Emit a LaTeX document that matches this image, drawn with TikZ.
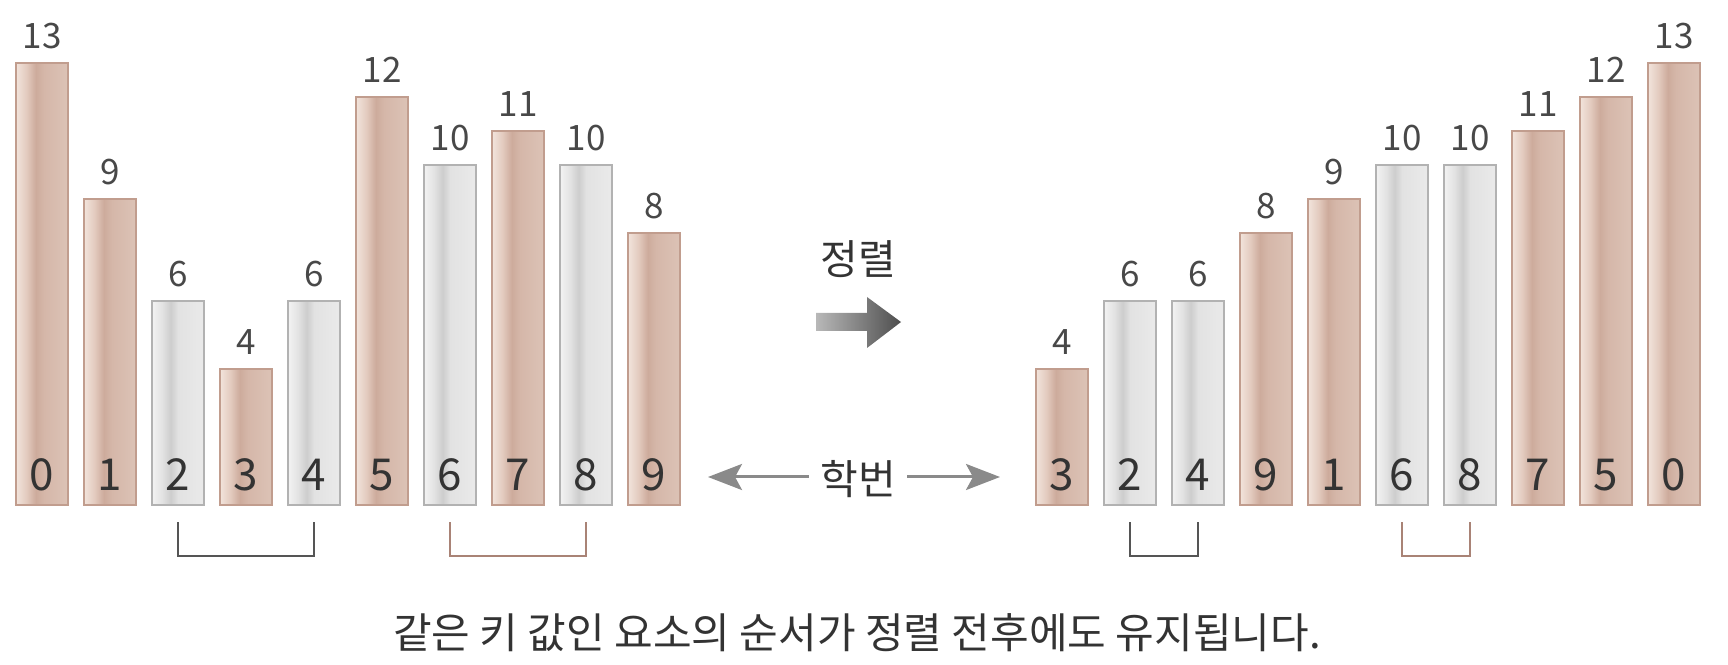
\documentclass[tikz,border=0pt]{standalone}
\usepackage{fontspec}
\setmainfont{Noto Sans CJK KR}
\usepackage{tikz}
\usetikzlibrary{arrows.meta,positioning}

\definecolor{brA}{HTML}{F2E4DC}
\definecolor{brB}{HTML}{E3CBBF}
\definecolor{brC}{HTML}{CDAB9C}
\definecolor{brD}{HTML}{D5B7A9}
\definecolor{brE}{HTML}{DCC3B6}
\definecolor{brline}{HTML}{C19D8E}
\definecolor{grA}{HTML}{F3F3F3}
\definecolor{grB}{HTML}{E2E2E2}
\definecolor{grC}{HTML}{CDCDCD}
\definecolor{grD}{HTML}{E2E2E2}
\definecolor{grE}{HTML}{EAEAEA}
\definecolor{grline}{HTML}{B2B2B2}
\definecolor{txt}{HTML}{333333}
\definecolor{valtxt}{HTML}{484848}
\definecolor{pairdark}{HTML}{555555}
\definecolor{pairbrown}{HTML}{A98376}
\definecolor{hakgray}{HTML}{8A8A8A}
\definecolor{sortl}{HTML}{B8B8B8}
\definecolor{sortr}{HTML}{4E4E4E}

\pgfdeclarehorizontalshading{brownshade}{100bp}{color(0bp)=(brA); color(25bp)=(brA);
  color(35bp)=(brB); color(44bp)=(brC); color(52bp)=(brD); color(75bp)=(brE); color(100bp)=(brE)}
\pgfdeclarehorizontalshading{grayshade}{100bp}{color(0bp)=(grA); color(25bp)=(grA);
  color(35bp)=(grB); color(43bp)=(grC); color(50bp)=(grD); color(75bp)=(grE); color(100bp)=(grE)}

\begin{document}
\begin{tikzpicture}[x=1pt,y=1pt]
\tikzstyle{every node}=[text=txt]
\tikzstyle{bar}=[anchor=south west,minimum width=52pt,inner sep=0pt,outer sep=0pt,line width=1.5pt]
\tikzstyle{brown bar}=[bar,draw=brline,shading=brownshade]
\tikzstyle{gray bar}=[bar,draw=grline,shading=grayshade]
\tikzstyle{val}=[font=\fontsize{35}{35}\selectfont,text=valtxt]
\tikzstyle{idx}=[font=\fontsize{44}{44}\selectfont]
\tikzstyle{pair}=[line width=2pt]
\tikzstyle{hakarrow}=[draw=hakgray,line width=3pt,-{Stealth[length=34pt,width=26pt,inset=7pt]}]
\useasboundingbox (0,0) rectangle (1728,664);

% before sorting
\foreach \v/\s [count=\i from 0] in {13/brown,9/brown,6/gray,4/brown,6/gray,12/brown,10/gray,11/brown,10/gray,8/brown}{
  \node[\s\space bar,minimum height=\v*34pt] (L\i) at (16+68*\i,159) {};
  \node[val] at ([yshift=27pt]L\i.north) {\v};
  \node[idx] at ([yshift=30pt]L\i.south) {\i};
}

% after sorting
\foreach \k/\v/\s [count=\i from 0] in {3/4/brown,2/6/gray,4/6/gray,9/8/brown,1/9/brown,6/10/gray,8/10/gray,7/11/brown,5/12/brown,0/13/brown}{
  \node[\s\space bar,minimum height=\v*34pt] (R\i) at (1036+68*\i,159) {};
  \node[val] at ([yshift=27pt]R\i.north) {\v};
  \node[idx] at ([yshift=30pt]R\i.south) {\k};
}

% equal keys
\draw[pair,draw=pairdark] ([yshift=-17pt]L2.south) -- ++(0,-34) -| ([yshift=-17pt]L4.south);
\draw[pair,draw=pairbrown] ([yshift=-17pt]L6.south) -- ++(0,-34) -| ([yshift=-17pt]L8.south);
\draw[pair,draw=pairdark] ([yshift=-17pt]R1.south) -- ++(0,-34) -| ([yshift=-17pt]R2.south);
\draw[pair,draw=pairbrown] ([yshift=-17pt]R5.south) -- ++(0,-34) -| ([yshift=-17pt]R6.south);

% sort arrow
\node[font=\fontsize{41}{41}\selectfont] (sortlbl) at (858,405) {정렬};
\shade[left color=sortl,right color=sortr] (816,351) -- (867,351) -- (867,367) -- (901,342)
  -- (867,316) -- (867,333) -- (816,333) -- cycle;

% student id
\node[font=\fontsize{41}{41}\selectfont] (hak) at (858,185) {학번};
\coordinate (hakL) at (708,187);
\coordinate (hakR) at (1000,187);
\draw[hakarrow] ([xshift=-8pt]hak.west |- hakL) -- (hakL);
\draw[hakarrow] ([xshift=8pt]hak.east |- hakR) -- (hakR);

\node[font=\fontsize{42}{42}\selectfont] (caption) at (857,31) {같은 키 값인 요소의 순서가 정렬 전후에도 유지됩니다.};
\end{tikzpicture}
\end{document}
